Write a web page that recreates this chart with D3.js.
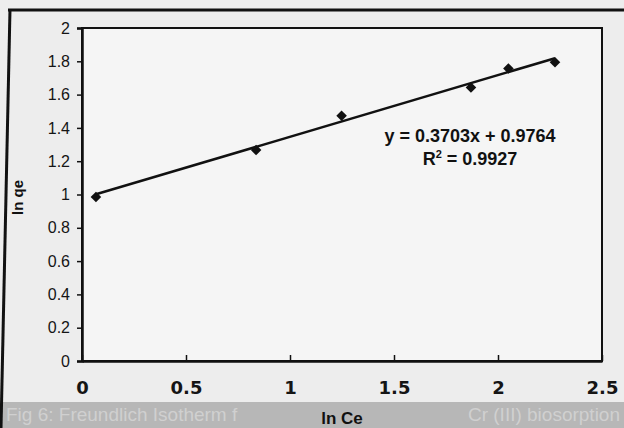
<!DOCTYPE html>
<html><head><meta charset="utf-8">
<script src="https://cdn.jsdelivr.net/npm/d3@7"></script>
<style>html,body{margin:0;padding:0;background:#ebebeb;}svg{display:block;}</style>
</head><body>
<script>
const lnCe = [0.067, 0.837, 1.248, 1.870, 2.050, 2.274];
const lnQe = [0.985, 1.267, 1.473, 1.643, 1.757, 1.794];
const slope = 0.3703, intercept = 0.9764;
const xTicks = [0, 0.5, 1, 1.5, 2, 2.5];
const yTicks = [0, 0.2, 0.4, 0.6, 0.8, 1, 1.2, 1.4, 1.6, 1.8, 2];
const eqLabel = "y = 0.3703x + 0.9764";
const r2Value = "0.9927";
const captionLeft = "Fig 6: Freundlich Isotherm f";
const captionRight = "Cr (III) biosorption";

const W = 624, H = 428;
const m = {l: 82, t: 28, r: 602, b: 361};
const font = "Liberation Sans, Arial, sans-serif";
const svg = d3.select("body").append("svg").attr("width", W).attr("height", H);
svg.append("rect").attr("width", W).attr("height", H).attr("fill", "#ededed");
// bottom gray caption band (show-through caption)
svg.append("rect").attr("x", 0).attr("y", 402).attr("width", W).attr("height", 26).attr("fill", "#b7b7b7");
svg.append("text").attr("x", 6).attr("y", 421).attr("text-anchor", "start")
  .attr("font-family", font).attr("font-size", 19).attr("fill", "#d0d0d0").text(captionLeft);
svg.append("text").attr("x", 620).attr("y", 421).attr("text-anchor", "end")
  .attr("font-family", font).attr("font-size", 19).attr("fill", "#d0d0d0").text(captionRight);
// outer frame
svg.append("line").attr("x1", 8).attr("x2", W).attr("y1", 10).attr("y2", 10).attr("stroke", "#111").attr("stroke-width", 3);
svg.append("line").attr("x1", 10).attr("x2", 1).attr("y1", 9).attr("y2", H).attr("stroke", "#111").attr("stroke-width", 3);

const x = d3.scaleLinear().domain([0, 2.5]).range([m.l, m.r]);
const y = d3.scaleLinear().domain([0, 2]).range([m.b, m.t]);

svg.append("rect").attr("x", m.l).attr("y", m.t).attr("width", m.r - m.l).attr("height", m.b - m.t)
  .attr("fill", "#f5f5f5").attr("stroke", "#111").attr("stroke-width", 2);

const yAxis = svg.append("g").attr("transform", `translate(${m.l},0)`)
  .call(d3.axisLeft(y).tickValues(yTicks).tickSize(5).tickPadding(7).tickFormat(d => d3.format("")(+d.toFixed(1))));
yAxis.select(".domain").attr("stroke", "#111").attr("stroke-width", 2.5);
yAxis.selectAll("line").attr("stroke", "#111").attr("stroke-width", 1.5);
yAxis.selectAll("text").attr("font-family", font).attr("font-size", 16).attr("fill", "#151515");

const xAxis = svg.append("g").attr("transform", `translate(0,${m.b})`)
  .call(d3.axisBottom(x).tickValues(xTicks).tickSizeInner(-6).tickSizeOuter(0).tickPadding(20).tickFormat(d => d3.format("")(d)));
xAxis.select(".domain").attr("stroke", "#111").attr("stroke-width", 2.5);
xAxis.selectAll("line").attr("stroke", "#111").attr("stroke-width", 1.5);
xAxis.selectAll("text").attr("font-family", "DejaVu Sans, sans-serif").attr("font-size", 18)
  .attr("font-weight", "bold").attr("fill", "#151515");

// trend line
const xr = d3.extent(lnCe);
svg.append("line")
  .attr("x1", x(xr[0])).attr("y1", y(slope * xr[0] + intercept))
  .attr("x2", x(xr[1])).attr("y2", y(slope * xr[1] + intercept))
  .attr("stroke", "#111").attr("stroke-width", 2.5);

// markers (square rotated 45 degrees)
svg.selectAll("path.pt").data(lnCe.map((v, i) => [v, lnQe[i]])).enter().append("path")
  .attr("class", "pt")
  .attr("d", d3.symbol().type(d3.symbolSquare).size(56))
  .attr("transform", d => `translate(${x(d[0])},${y(d[1])}) rotate(45)`)
  .attr("fill", "#111");

// equation
svg.append("text").attr("x", 470).attr("y", 142).attr("text-anchor", "middle")
  .attr("font-family", font).attr("font-size", 18).attr("font-weight", "bold").attr("fill", "#111").text(eqLabel);
const r2 = svg.append("text").attr("x", 470).attr("y", 165).attr("text-anchor", "middle")
  .attr("font-family", font).attr("font-size", 18).attr("font-weight", "bold").attr("fill", "#111");
r2.append("tspan").text("R");
r2.append("tspan").attr("font-size", 11).attr("dy", -7).text("2");
r2.append("tspan").attr("dy", 7).text(" = " + r2Value);

// axis titles
svg.append("text").attr("transform", `translate(23,${(m.t + m.b) / 2 + 3}) rotate(-90)`).attr("text-anchor", "middle")
  .attr("font-family", font).attr("font-size", 15).attr("font-weight", "bold").attr("fill", "#111").text("ln qe");
svg.append("text").attr("x", 342).attr("y", 424).attr("text-anchor", "middle")
  .attr("font-family", font).attr("font-size", 17).attr("font-weight", "bold").attr("fill", "#111").text("ln Ce");
</script>
</body></html>
